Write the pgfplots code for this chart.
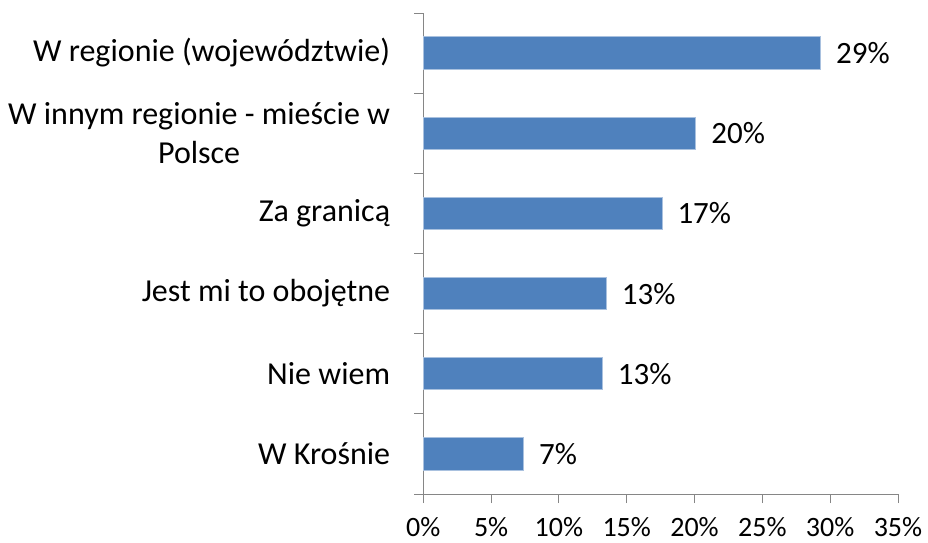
\documentclass[border=0pt]{standalone}
\usepackage{pgfplots}
\pgfplotsset{compat=1.18}
\usepackage{pgfplotstable}
\usepackage{fontspec}
\setmainfont{Carlito}
\definecolor{barblue}{HTML}{4F81BD}
\definecolor{baredge}{HTML}{A9C1DF}
\definecolor{axisgray}{HTML}{868686}

\pgfplotstableread[col sep=comma]{
y,x,lab
0,29.3,29
1,20.1,20
2,17.6,17
3,13.5,13
4,13.2,13
5,7.4,7
}\datatable

\begin{document}
\begin{tikzpicture}
\useasboundingbox (-423.3pt,-48pt) rectangle (504.7pt,494pt);
\begin{axis}[
  at={(0,0)}, anchor=south west,
  scale only axis,
  width=474.7pt, height=481pt,
  xbar, bar width=32.3pt,
  xmin=0, xmax=35, ymin=-0.5, ymax=5.5,
  y dir=reverse,
  axis x line*=bottom, axis y line*=left,
  axis line style={axisgray, line width=1pt, -},
  every tick/.style={axisgray, line width=1pt},
  tick align=outside,
  major tick length=9pt,
  xtick={0,5,...,35},
  xticklabel={\pgfmathprintnumber{\tick}\%},
  /pgf/number format/assume math mode=true,
  xticklabel style={font=\fontsize{28}{34}\selectfont, inner sep=0pt, yshift=-14pt},
  ytick={-0.5,0.5,1.5,2.5,3.5,4.5,5.5},
  yticklabels={W regionie (województwie),{W innym regionie - mieście w\\Polsce},Za granicą,Jest mi to obojętne,Nie wiem,W Krośnie,{}},
  yticklabel style={font=\fontsize{32}{39}\selectfont, align=center, anchor=east, inner sep=0pt, xshift=-24pt, yshift=-39.85pt},
  point meta=explicit symbolic,
  nodes near coords={\pgfplotspointmeta\%},
  every node near coord/.append style={font=\fontsize{31}{36}\selectfont, black, anchor=west, inner sep=0pt, xshift=15pt},
  clip=false,
]
\addplot[fill=barblue, draw=baredge, line width=1pt] table[x=x, y=y, meta=lab] {\datatable};
\end{axis}
\end{tikzpicture}
\end{document}
